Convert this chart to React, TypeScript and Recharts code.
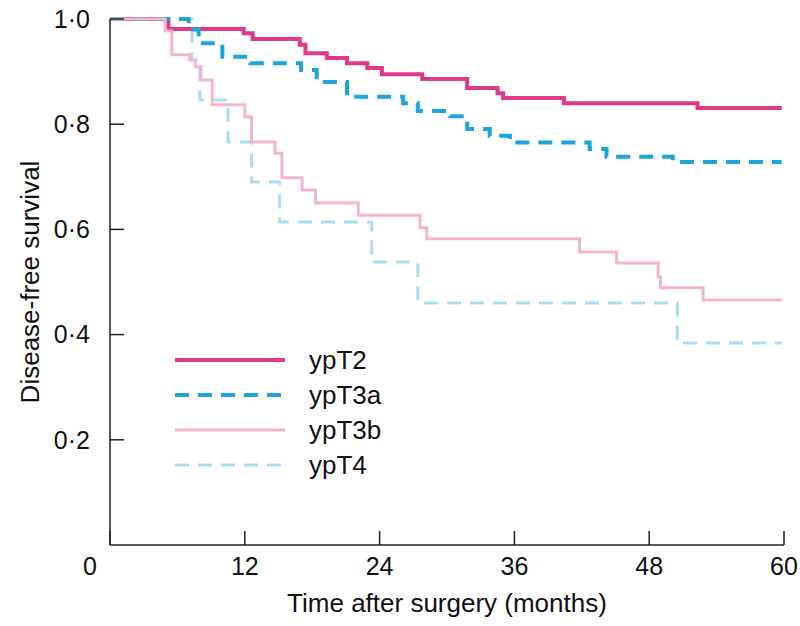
import React from "react";
import { LineChart, Line, XAxis, YAxis, Legend } from "recharts";

// Kaplan-Meier steps (months, survival)
const ypT2Months = [0, 5.2, 11.9, 12.7, 16.9, 17.4, 19.3, 21.1, 22.9, 24.2, 27.8, 31.8, 34.5, 35.0, 40.4, 52.3, 59.8];
const ypT2Surv = [1, 0.981, 0.973, 0.962, 0.951, 0.935, 0.926, 0.916, 0.907, 0.895, 0.886, 0.869, 0.859, 0.85, 0.84, 0.831, 0.831];

const ypT3aMonths = [0, 7.0, 7.9, 10.0, 12.5, 17.0, 18.4, 21.1, 26.1, 27.4, 30.3, 31.8, 33.8, 35.6, 42.7, 44.2, 50.1, 59.8];
const ypT3aSurv = [1, 0.98, 0.954, 0.928, 0.916, 0.903, 0.88, 0.852, 0.84, 0.825, 0.815, 0.791, 0.778, 0.765, 0.753, 0.738, 0.728, 0.728];

const ypT3bMonths = [0, 4.9, 5.5, 7.1, 7.6, 8.1, 9.1, 12.0, 12.6, 14.7, 15.3, 17.1, 18.3, 22.1, 27.6, 28.2, 41.8, 45.1, 48.8, 49.0, 52.8, 59.8];
const ypT3bSurv = [1, 0.977, 0.932, 0.922, 0.909, 0.884, 0.837, 0.814, 0.766, 0.745, 0.698, 0.675, 0.65, 0.627, 0.603, 0.582, 0.557, 0.536, 0.51, 0.489, 0.466, 0.466];

const ypT4Months = [0, 7.3, 8.0, 10.5, 12.6, 15.1, 23.3, 27.4, 50.5, 59.8];
const ypT4Surv = [1, 0.922, 0.846, 0.766, 0.69, 0.614, 0.538, 0.46, 0.384, 0.384];

const seriesNames = ["ypT2", "ypT3a", "ypT3b", "ypT4"];
const xTicks = [0, 12, 24, 36, 48, 60];
const yTicks = [0.2, 0.4, 0.6, 0.8, 1.0];

const toPoints = (months: number[], surv: number[]) =>
  months.map((t, i) => ({ t, s: surv[i] }));

const styles: Record<string, { color: string; width: number; dash?: string }> = {
  ypT2: { color: "#E0388B", width: 4 },
  ypT3a: { color: "#1BA5DB", width: 4, dash: "14 9" },
  ypT3b: { color: "#F4B4D1", width: 3 },
  ypT4: { color: "#A9DCF1", width: 3, dash: "14 9" },
};

// drawing order: light pink ends up on top, as in the figure
const series = [
  { name: "ypT4", data: toPoints(ypT4Months, ypT4Surv) },
  { name: "ypT2", data: toPoints(ypT2Months, ypT2Surv) },
  { name: "ypT3a", data: toPoints(ypT3aMonths, ypT3aSurv) },
  { name: "ypT3b", data: toPoints(ypT3bMonths, ypT3bSurv) },
];

const font = "'Liberation Sans', Arial, Helvetica, sans-serif";

const XTick = (props: any) => {
  const { x, y, payload } = props;
  const shift = payload.value === 0 ? -20 : 0;
  return (
    <text x={x + shift} y={y} dy="0.71em" textAnchor="middle" fontSize={25} fill="#111" fontFamily={font}>
      {payload.value}
    </text>
  );
};

const XTitle = (props: any) => {
  const { viewBox } = props;
  const cx = viewBox.x + viewBox.width / 2;
  return (
    <text x={cx} y={612} textAnchor="middle" fontSize={26} fill="#111" fontFamily={font}>
      Time after surgery (months)
    </text>
  );
};

const YTitle = (props: any) => {
  const { viewBox } = props;
  const cx = 30;
  const cy = viewBox.y + viewBox.height / 2;
  return (
    <text
      x={cx}
      y={cy}
      transform={`rotate(-90 ${cx} ${cy})`}
      textAnchor="middle"
      dominantBaseline="central"
      fontSize={26}
      fill="#111"
      fontFamily={font}
    >
      Disease-free survival
    </text>
  );
};

const LegendBox = () => (
  <div style={{ fontFamily: font }}>
    {seriesNames.map((n) => {
      const st = styles[n];
      return (
        <div key={n} style={{ display: "flex", alignItems: "center", height: 35 }}>
          <svg width={110} height={10}>
            <line x1={0} x2={110} y1={5} y2={5} stroke={st.color} strokeWidth={st.width} strokeDasharray={st.dash} />
          </svg>
          <span style={{ marginLeft: 24, fontSize: 26, color: "#111", lineHeight: "30px" }}>{n}</span>
        </div>
      );
    })}
  </div>
);

export default function App() {
  return (
    <div style={{ position: "absolute", left: 0, top: 0, width: 800, height: 626, background: "#fff" }}>
      <LineChart width={800} height={626} margin={{ top: 19, right: 16, left: 0, bottom: 0 }}>
        <XAxis
          type="number"
          dataKey="t"
          domain={[0, 60]}
          ticks={xTicks}
          height={81}
          tick={<XTick />}
          tickSize={-14}
          tickMargin={26}
          axisLine={{ stroke: "#222", strokeWidth: 1.5 }}
          tickLine={{ stroke: "#222", strokeWidth: 1.5 }}
          label={<XTitle />}
          allowDataOverflow
        />
        <YAxis
          type="number"
          domain={[0, 1]}
          ticks={yTicks}
          width={110}
          tickSize={-14}
          tickMargin={34}
          tickFormatter={(v: number) => v.toFixed(1).replace(".", "·")}
          tick={{ fontSize: 25, fill: "#111", fontFamily: font }}
          axisLine={{ stroke: "#222", strokeWidth: 1.5 }}
          tickLine={{ stroke: "#222", strokeWidth: 1.5 }}
          label={<YTitle />}
        />
        <Legend
          layout="vertical"
          align="center"
          verticalAlign="middle"
          content={<LegendBox />}
          wrapperStyle={{ left: 175, top: 342, width: 260, height: 140 }}
        />
        {series.map((sr) => (
          <Line
            key={sr.name}
            name={sr.name}
            data={sr.data}
            dataKey="s"
            type="stepAfter"
            stroke={styles[sr.name].color}
            strokeWidth={styles[sr.name].width}
            strokeDasharray={styles[sr.name].dash}
            dot={false}
            activeDot={false}
            isAnimationActive={false}
          />
        ))}
      </LineChart>
    </div>
  );
}
